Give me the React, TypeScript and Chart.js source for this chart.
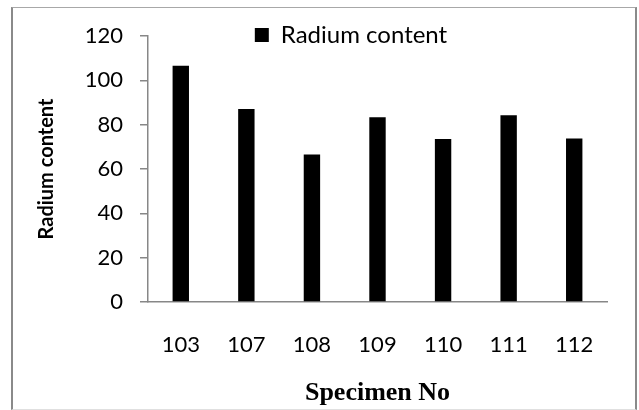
import React, { useEffect, useRef } from "react";
import { Chart, registerables } from "chart.js";

Chart.register(...registerables);

const specimens = ["103", "107", "108", "109", "110", "111", "112"];
const radiumContent = [106.6, 87.1, 66.5, 83.3, 73.5, 84.3, 73.8];
const yTicks = [0, 20, 40, 60, 80, 100, 120];

const seriesName = "Radium content";
const yTitle = "Radium content";
const xTitle = "Specimen No";

const sansFont = "Lato, 'Open Sans', sans-serif";
const serifFont = "'Liberation Serif', 'DejaVu Serif', serif";
const axisGray = "#878787";

// Moves the legend block after layout so it sits to the right of centre, above the plot.
const legendShift = {
  id: "legendShift",
  afterLayout(chart: any) {
    const lg = chart.legend;
    if (!lg) return;
    const dx = 32;
    const dy = 21;
    lg.left += dx;
    lg.right += dx;
    lg.top += dy;
    lg.bottom += dy;
  },
};

export default function App() {
  const canvasRef = useRef<HTMLCanvasElement | null>(null);

  useEffect(() => {
    const canvas = canvasRef.current;
    if (!canvas) return;
    const chart = new Chart(canvas, {
      type: "bar",
      data: {
        labels: specimens,
        datasets: [
          {
            label: seriesName,
            data: radiumContent,
            backgroundColor: "#000000",
            borderWidth: 0,
            barPercentage: 0.25,
            categoryPercentage: 1,
          },
        ],
      },
      plugins: [legendShift],
      options: {
        responsive: false,
        animation: false,
        layout: { padding: { left: 31, right: 32, top: 2, bottom: 0 } },
        plugins: {
          tooltip: { enabled: false },
          legend: {
            display: true,
            position: "top",
            labels: {
              boxWidth: 14,
              boxHeight: 14,
              padding: 0,
              color: "#000",
              font: { family: sansFont, size: 24 },
            },
          },
        },
        scales: {
          x: {
            grid: { display: false, drawTicks: false },
            border: { display: true, color: axisGray, width: 1.5 },
            ticks: {
              color: "#000",
              padding: 30,
              font: { family: sansFont, size: 22 },
            },
            title: {
              display: true,
              text: xTitle,
              color: "#000",
              font: { family: serifFont, size: 26, weight: "bold" },
              padding: { top: 6, bottom: 1 },
            },
            afterFit(scale: any) {
              scale.height = 410 - 302;
            },
          },
          y: {
            min: 0,
            max: 120,
            afterBuildTicks(scale: any) {
              scale.ticks = yTicks.map((v) => ({ value: v }));
            },
            grid: {
              drawOnChartArea: false,
              drawTicks: true,
              tickLength: 8,
              color: axisGray,
              lineWidth: 1.5,
            },
            border: { display: true, color: axisGray, width: 1.5 },
            ticks: {
              color: "#000",
              padding: 17,
              font: { family: sansFont, size: 22 },
            },
            title: {
              display: true,
              text: yTitle,
              color: "#000",
              font: { family: sansFont, size: 20, weight: "bold" },
              padding: { top: 4, bottom: 4 },
            },
            afterFit(scale: any) {
              scale.width = 148 - 31;
            },
          },
        },
      },
    });
    return () => chart.destroy();
  }, []);

  return (
    <div style={{ position: "fixed", left: 0, top: 0, width: 639, height: 410, background: "#fff" }}>
      <canvas ref={canvasRef} width={639} height={410} style={{ position: "absolute", left: 0, top: 0 }} />
      <div
        style={{
          position: "absolute",
          left: 11,
          top: 7,
          width: 622,
          height: 401,
          borderLeft: "2px solid #8a8a8a",
          borderRight: "2px solid #8a8a8a",
          borderTop: "1px solid #a8a8a8",
          borderBottom: "1px solid #e0e0e0",
          pointerEvents: "none",
        }}
      />
    </div>
  );
}
